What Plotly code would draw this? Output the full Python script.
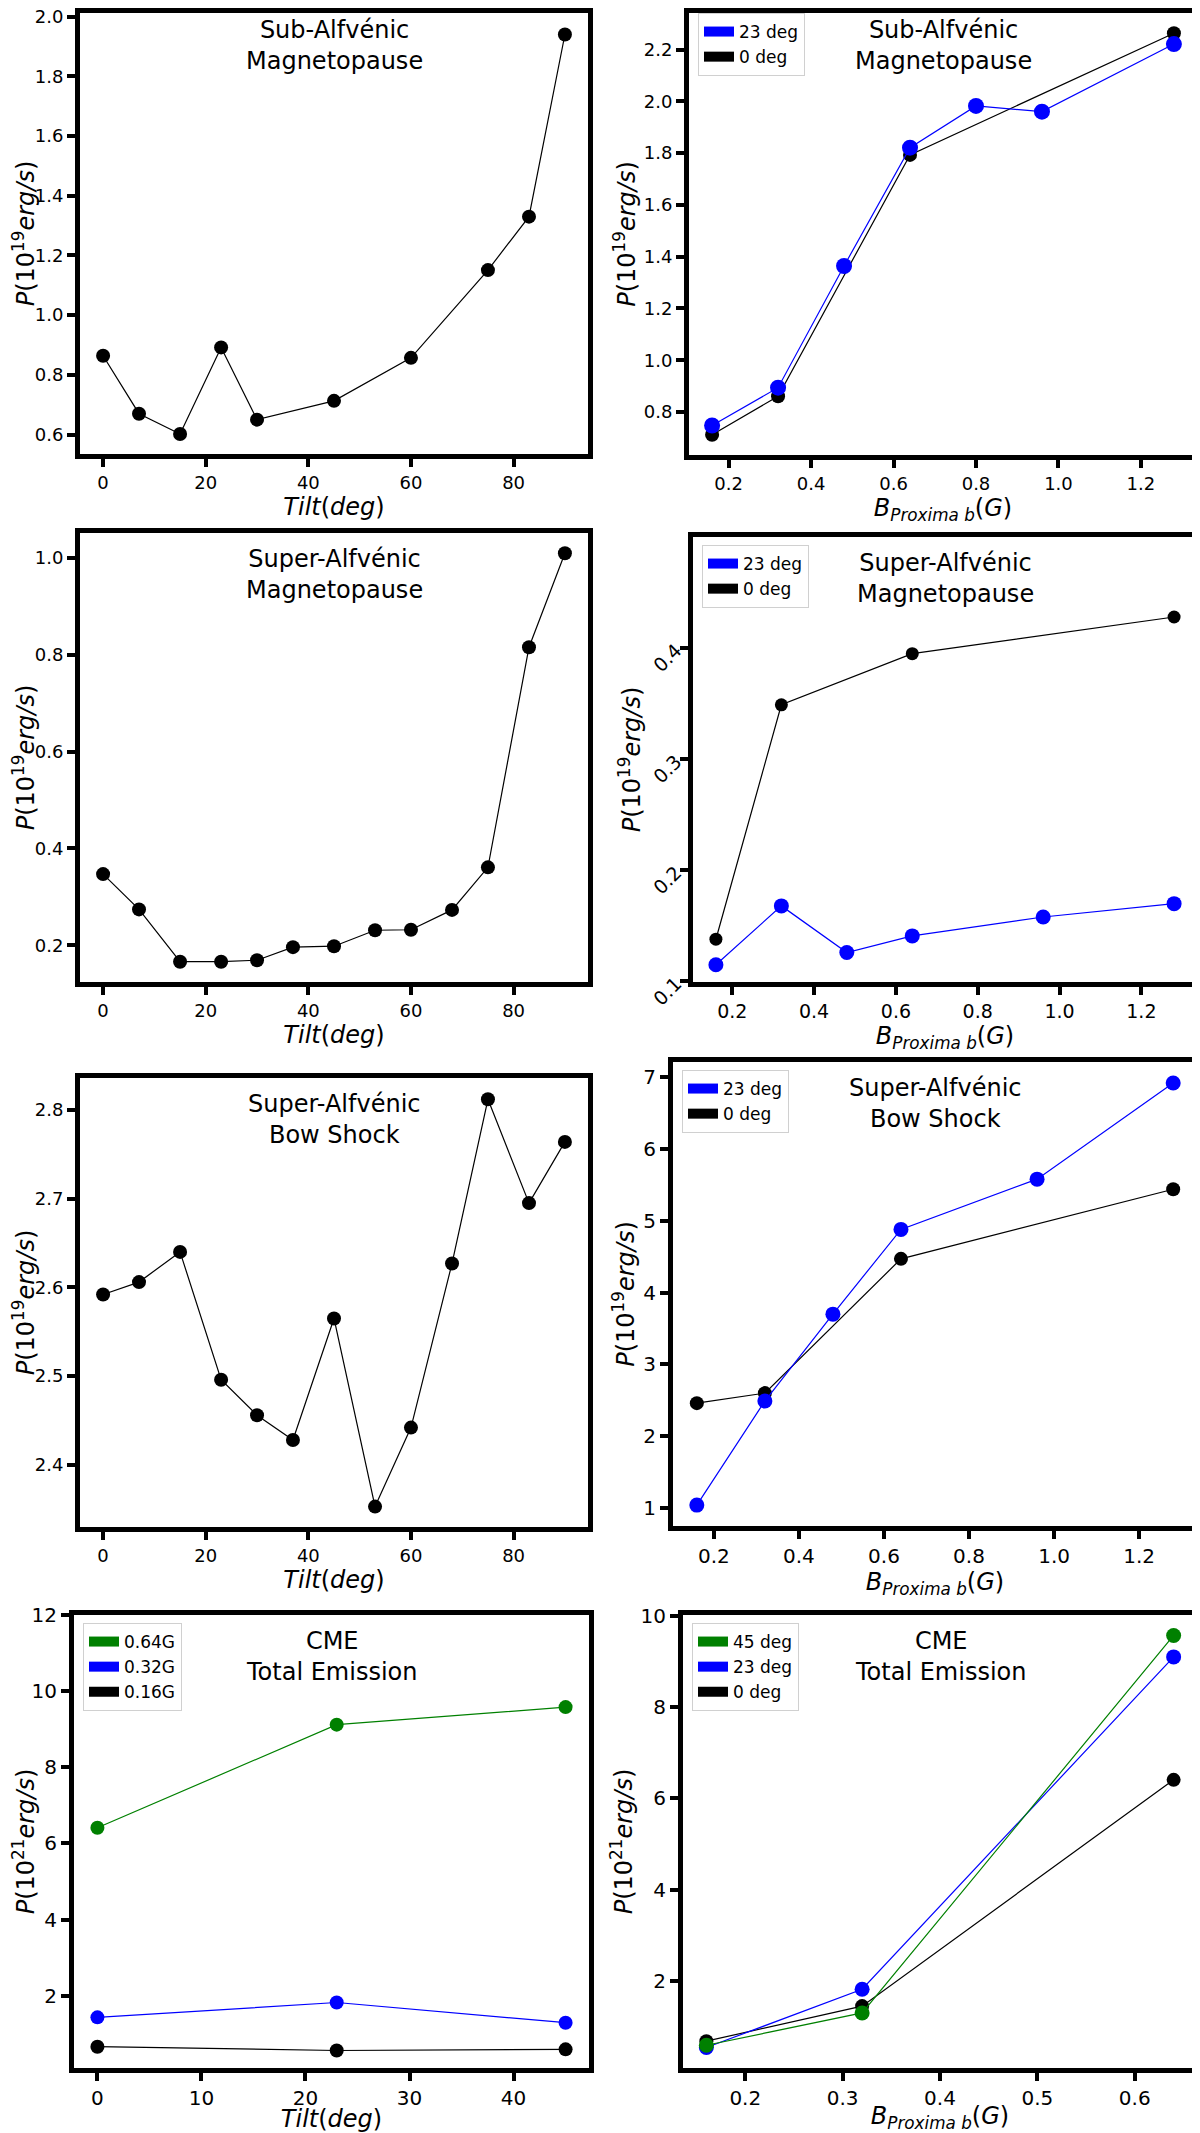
import plotly.graph_objects as go

# the page body keeps its default 8px margin, so the figure is drawn 8px in
# from the top-left corner; positions below are in page pixels
OFF = 8
PAGE_W, PAGE_H = 1200, 2133
W, H = PAGE_W - OFF, PAGE_H - OFF

# ---- data ----
# Sub-Alfvenic magnetopause, power vs tilt
tilt_sub = [0, 7, 15, 23, 30, 45, 60, 75, 83, 90]
p_sub_tilt = [0.864, 0.670, 0.602, 0.892, 0.650, 0.713, 0.857, 1.151, 1.330, 1.940]

# Sub-Alfvenic magnetopause, power vs planet field
b_sub_23 = [0.16, 0.32, 0.48, 0.64, 0.80, 0.96, 1.28]
p_sub_23 = [0.748, 0.894, 1.364, 1.821, 1.982, 1.960, 2.221]
b_sub_0 = [0.16, 0.32, 0.64, 1.28]
p_sub_0 = [0.712, 0.861, 1.793, 2.263]

# Super-Alfvenic magnetopause, power vs tilt
tilt_sup = [0, 7, 15, 23, 30, 37, 45, 53, 60, 68, 75, 83, 90]
p_mp_tilt = [0.347, 0.274, 0.166, 0.166, 0.169, 0.196, 0.198, 0.231, 0.232, 0.273, 0.361, 0.816, 1.010]

# Super-Alfvenic magnetopause, power vs planet field
b_mp_23 = [0.16, 0.32, 0.48, 0.64, 0.96, 1.28]
p_mp_23 = [0.115, 0.168, 0.126, 0.141, 0.158, 0.170]
b_mp_0 = [0.16, 0.32, 0.64, 1.28]
p_mp_0 = [0.138, 0.349, 0.395, 0.428]

# Super-Alfvenic bow shock, power vs tilt
p_bs_tilt = [2.592, 2.606, 2.640, 2.496, 2.456, 2.428, 2.565, 2.353, 2.442, 2.627, 2.812, 2.695, 2.764]

# Super-Alfvenic bow shock, power vs planet field
b_bs_23 = [0.16, 0.32, 0.48, 0.64, 0.96, 1.28]
p_bs_23 = [1.04, 2.49, 3.70, 4.88, 5.58, 6.92]
b_bs_0 = [0.16, 0.32, 0.64, 1.28]
p_bs_0 = [2.46, 2.60, 4.47, 5.44]

# CME total emission vs tilt (one line per field strength)
tilt_cme = [0, 23, 45]
p_cme_064 = [6.41, 9.12, 9.58]
p_cme_032 = [1.43, 1.82, 1.29]
p_cme_016 = [0.66, 0.56, 0.59]

# CME total emission vs field (one line per tilt)
b_cme = [0.16, 0.32, 0.64]
p_cme_45 = [0.58, 1.29, 9.58]
p_cme_23 = [0.53, 1.81, 9.11]
p_cme_0 = [0.67, 1.44, 6.41]

BLUE, BLACK, GREEN = "#0000ff", "#000000", "#008000"
FONT = "DejaVu Sans"

Y19 = "<i>P</i>(10<sup>19</sup><i>erg/s</i>)"
Y21 = "<i>P</i>(10<sup>21</sup><i>erg/s</i>)"
XT = "<i>Tilt</i>(<i>deg</i>)"
XB = "<i>B<sub>Proxima b</sub></i>(<i>G</i>)"

# panel frames in page pixels: left, right, top, bottom
panels = [
    dict(box=(80, 588, 5, 454), xr=[-4.5, 94.5], yr=[0.535, 2.012],
         xt=[0, 20, 40, 60, 80], yt=[0.6, 0.8, 1.0, 1.2, 1.4, 1.6, 1.8, 2.0],
         xf="", yf=".1f", fs=18, xtitle=XT, ytitle=Y19,
         title="Sub-Alfvénic<br>Magnetopause"),
    dict(box=(689, 1197, 5, 455), xr=[0.104, 1.336], yr=[0.634, 2.341],
         xt=[0.2, 0.4, 0.6, 0.8, 1.0, 1.2], yt=[0.8, 1.0, 1.2, 1.4, 1.6, 1.8, 2.0, 2.2],
         xf=".1f", yf=".1f", fs=18, xtitle=XB, ytitle=Y19,
         title="Sub-Alfvénic<br>Magnetopause"),
    dict(box=(80, 588, 533, 982), xr=[-4.5, 94.5], yr=[0.124, 1.052],
         xt=[0, 20, 40, 60, 80], yt=[0.2, 0.4, 0.6, 0.8, 1.0],
         xf="", yf=".1f", fs=18, xtitle=XT, ytitle=Y19,
         title="Super-Alfvénic<br>Magnetopause"),
    dict(box=(693, 1197, 537, 982), xr=[0.104, 1.336], yr=[0.0995, 0.5],
         xt=[0.2, 0.4, 0.6, 0.8, 1.0, 1.2], yt=[0.1, 0.2, 0.3, 0.4],
         xf=".1f", yf=".1f", fs=19, xtitle=XB, ytitle=Y19, yangle=-45,
         title="Super-Alfvénic<br>Magnetopause"),
    dict(box=(80, 588, 1078, 1527), xr=[-4.5, 94.5], yr=[2.330, 2.836],
         xt=[0, 20, 40, 60, 80], yt=[2.4, 2.5, 2.6, 2.7, 2.8],
         xf="", yf=".1f", fs=18, xtitle=XT, ytitle=Y19,
         title="Super-Alfvénic<br>Bow Shock"),
    dict(box=(673, 1197, 1062, 1526), xr=[0.104, 1.336], yr=[0.749, 7.212],
         xt=[0.2, 0.4, 0.6, 0.8, 1.0, 1.2], yt=[1, 2, 3, 4, 5, 6, 7],
         xf=".1f", yf="", fs=20, xtitle=XB, ytitle=Y19,
         title="Super-Alfvénic<br>Bow Shock"),
    dict(box=(74, 589, 1615, 2068), xr=[-2.25, 47.25], yr=[0.1, 12.0],
         xt=[0, 10, 20, 30, 40], yt=[2, 4, 6, 8, 10, 12],
         xf="", yf="", fs=20, xtitle=XT, ytitle=Y21,
         title="CME<br>Total Emission"),
    dict(box=(683, 1197, 1615, 2068), xr=[0.136, 0.664], yr=[0.081, 10.03],
         xt=[0.2, 0.3, 0.4, 0.5, 0.6], yt=[2, 4, 6, 8, 10],
         xf=".1f", yf="", fs=20, xtitle=XB, ytitle=Y21,
         title="CME<br>Total Emission"),
]

# (panel index, x, y, colour, marker size)
series = [
    (1, tilt_sub, p_sub_tilt, BLACK, 14),
    (2, b_sub_0, p_sub_0, BLACK, 14),
    (2, b_sub_23, p_sub_23, BLUE, 16),
    (3, tilt_sup, p_mp_tilt, BLACK, 14),
    (4, b_mp_0, p_mp_0, BLACK, 13),
    (4, b_mp_23, p_mp_23, BLUE, 15),
    (5, tilt_sup, p_bs_tilt, BLACK, 14),
    (6, b_bs_0, p_bs_0, BLACK, 14),
    (6, b_bs_23, p_bs_23, BLUE, 15),
    (7, tilt_cme, p_cme_016, BLACK, 14),
    (7, tilt_cme, p_cme_032, BLUE, 14),
    (7, tilt_cme, p_cme_064, GREEN, 14),
    (8, b_cme, p_cme_0, BLACK, 14),
    (8, b_cme, p_cme_23, BLUE, 15),
    (8, b_cme, p_cme_45, GREEN, 15),
]

# legends: panel index -> entries (label, colour), in display order
legends = {
    2: [("23 deg", BLUE), ("0 deg", BLACK)],
    4: [("23 deg", BLUE), ("0 deg", BLACK)],
    6: [("23 deg", BLUE), ("0 deg", BLACK)],
    7: [("0.64G", GREEN), ("0.32G", BLUE), ("0.16G", BLACK)],
    8: [("45 deg", GREEN), ("23 deg", BLUE), ("0 deg", BLACK)],
}


def ax_name(i, kind):
    return kind if i == 1 else f"{kind}{i}"


def px_x(v):
    return min(max((v - OFF) / W, 0.0), 1.0)


def px_y(v):
    return min(max(1 - (v - OFF) / H, 0.0), 1.0)


fig = go.Figure()

for i, xs, ys, color, msize in series:
    fig.add_trace(go.Scatter(
        x=xs, y=ys, mode="lines+markers", showlegend=False,
        line=dict(color=color, width=1.2),
        marker=dict(color=color, size=msize),
        xaxis=ax_name(i, "x"), yaxis=ax_name(i, "y")))

layout = dict(
    width=W, height=H, margin=dict(l=0, r=0, t=0, b=0),
    paper_bgcolor="white", plot_bgcolor="white",
    font=dict(family=FONT, color="black"),
    annotations=[],
)

for n, (i, entries) in enumerate(legends.items()):
    lname = "legend" if n == 0 else f"legend{n + 1}"
    for label, color in entries:
        fig.add_trace(go.Scatter(
            x=[None], y=[None], mode="lines", name=label, legend=lname,
            line=dict(color=color, width=11),
            xaxis=ax_name(i, "x"), yaxis=ax_name(i, "y")))
    left, right, top, bottom = panels[i - 1]["box"]
    layout[lname] = dict(
        x=px_x(left + 9), y=px_y(top + 8), xanchor="left", yanchor="top",
        bgcolor="rgba(255,255,255,0.8)", bordercolor="#d0d0d0", borderwidth=1,
        font=dict(family=FONT, size=17, color="black"), itemwidth=30,
        tracegroupgap=0)

for i, p in enumerate(panels, start=1):
    left, right, top, bottom = p["box"]
    dom_top = max(top, OFF + 5)   # keep the top frame inside the page
    common = dict(showline=True, linewidth=5, linecolor="black", mirror=True,
                  ticks="outside", ticklen=8, tickwidth=4, tickcolor="black",
                  showgrid=False, zeroline=False, automargin=False,
                  tickfont=dict(family=FONT, size=p["fs"], color="black"))
    layout[ax_name(i, "xaxis")] = dict(
        common, domain=[px_x(left), px_x(right)], anchor=ax_name(i, "y"),
        range=p["xr"], tickvals=p["xt"], tickformat=p["xf"],
        title=dict(text=p["xtitle"], font=dict(family=FONT, size=24), standoff=5))
    layout[ax_name(i, "yaxis")] = dict(
        common, domain=[px_y(bottom), px_y(dom_top)], anchor=ax_name(i, "x"),
        range=p["yr"], tickvals=p["yt"], tickformat=p["yf"],
        tickangle=p.get("yangle", 0),
        title=dict(text=p["ytitle"], font=dict(family=FONT, size=24), standoff=3))
    layout["annotations"].append(dict(
        text=p["title"], showarrow=False,
        xref=f"{ax_name(i, 'x')} domain", yref="paper",
        x=0.5, y=px_y(top + 41), xanchor="center", yanchor="middle",
        font=dict(family=FONT, size=24, color="black")))

fig.update_layout(layout)
fig.write_html("out.html")
